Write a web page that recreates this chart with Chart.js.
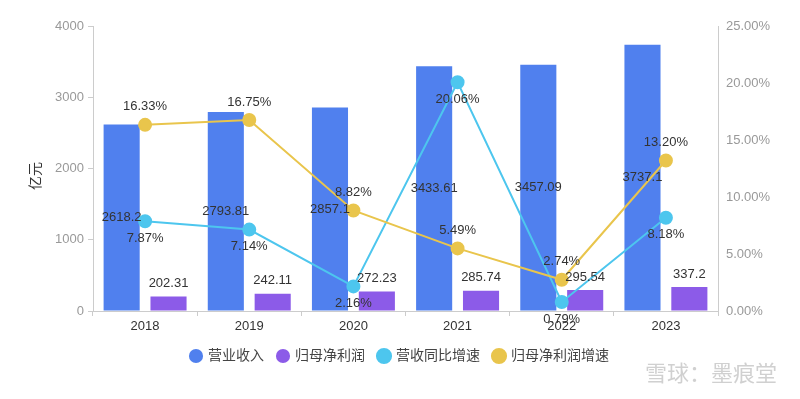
<!DOCTYPE html>
<html>
<head>
<meta charset="utf-8">
<script src="https://cdn.jsdelivr.net/npm/chart.js"></script>
<style>
  html, body { margin: 0; padding: 0; background: #fff; }
  #wrap { width: 800px; height: 399px; position: relative; }
</style>
</head>
<body>
<div id="wrap"><canvas id="chart"></canvas></div>
<script>
// chart data
const years = ['2018', '2019', '2020', '2021', '2022', '2023'];
const revenue = [2618.2, 2793.81, 2857.1, 3433.61, 3457.09, 3737.1];
const netProfit = [202.31, 242.11, 272.23, 285.74, 295.54, 337.2];
const revenueGrowth = [7.87, 7.14, 2.16, 20.06, 0.79, 8.18];
const profitGrowth = [16.33, 16.75, 8.82, 5.49, 2.74, 13.20];
const leftTicks = [0, 1000, 2000, 3000, 4000];
const rightTicks = [0, 5, 10, 15, 20, 25];

const FONT = '"Liberation Sans", "Noto Sans CJK SC", sans-serif';

// draws value labels for each series
const valueLabels = {
  id: 'valueLabels',
  afterDatasetsDraw(chart) {
    const ctx = chart.ctx;
    ctx.save();
    ctx.font = '13px ' + FONT;
    ctx.fillStyle = '#333';
    ctx.textAlign = 'center';
    ctx.textBaseline = 'middle';
    chart.data.datasets.forEach((ds, i) => {
      const meta = chart.getDatasetMeta(i);
      meta.data.forEach((el, j) => {
        const v = ds.data[j];
        if (ds.labelPos === 'center') {
          ctx.fillText(String(v), el.x, (el.y + el.base) / 2);
        } else if (ds.labelPos === 'top') {
          ctx.fillText(String(v), el.x, el.y - 13);
        } else if (ds.labelPos === 'above') {
          ctx.fillText(v.toFixed(2) + '%', el.x, el.y - 18);
        } else if (ds.labelPos === 'below') {
          ctx.fillText(v.toFixed(2) + '%', el.x, el.y + 17);
        }
      });
    });
    ctx.restore();
  }
};

// axis title and watermark
const extras = {
  id: 'extras',
  afterDraw(chart) {
    const ctx = chart.ctx;
    ctx.save();
    ctx.font = '14px ' + FONT;
    ctx.fillStyle = '#333';
    ctx.textAlign = 'center';
    ctx.textBaseline = 'middle';
    ctx.translate(36, 176);
    ctx.rotate(-Math.PI / 2);
    ctx.fillText('亿元', 0, 0);
    ctx.restore();

    ctx.save();
    ctx.font = '22px "Noto Sans CJK SC", sans-serif';
    ctx.fillStyle = 'rgba(200,200,200,0.85)';
    ctx.textAlign = 'left';
    ctx.textBaseline = 'middle';
    ctx.fillText('雪球：墨痕堂', 645, 373);
    ctx.restore();
  }
};

new Chart(document.getElementById('chart'), {
  data: {
    labels: years,
    datasets: [
      {
        type: 'bar', label: '营业收入', data: revenue, yAxisID: 'y',
        backgroundColor: '#5080EE', order: 2, labelPos: 'center',
        categoryPercentage: 0.9, barPercentage: 0.77
      },
      {
        type: 'bar', label: '归母净利润', data: netProfit, yAxisID: 'y',
        backgroundColor: '#8C5BE8', order: 3, labelPos: 'top',
        categoryPercentage: 0.9, barPercentage: 0.77
      },
      {
        type: 'line', label: '营收同比增速', data: revenueGrowth, yAxisID: 'y1',
        borderColor: '#4DC6EE', backgroundColor: '#4DC6EE', borderWidth: 2,
        pointRadius: 6, pointHoverRadius: 6, order: 1, labelPos: 'below'
      },
      {
        type: 'line', label: '归母净利润增速', data: profitGrowth, yAxisID: 'y1',
        borderColor: '#E9C54C', backgroundColor: '#E9C54C', borderWidth: 2,
        pointRadius: 6, pointHoverRadius: 6, order: 0, labelPos: 'above'
      }
    ]
  },
  options: {
    responsive: true,
    maintainAspectRatio: false,
    animation: false,
    layout: { padding: { left: 0, right: 0, top: 26, bottom: 26 } },
    plugins: {
      tooltip: { enabled: false },
      legend: {
        position: 'bottom',
        labels: {
          sort: (a, b) => a.datasetIndex - b.datasetIndex,
          usePointStyle: true, pointStyle: 'circle', boxWidth: 10, boxHeight: 10,
          padding: 14, color: '#444', font: { size: 14, family: FONT }
        }
      }
    },
    scales: {
      x: {
        grid: { display: true, drawOnChartArea: false, offset: true, tickLength: 5, color: '#ccc' },
        border: { color: '#ccc' },
        ticks: { color: '#333', font: { size: 13, family: FONT }, padding: 3 },
        afterFit(s) { s.height = 24; }
      },
      y: {
        position: 'left', min: 0, max: 4000,
        afterBuildTicks(s) { s.ticks = leftTicks.map(v => ({ value: v })); },
        grid: { drawOnChartArea: false, tickLength: 5, color: '#ccc' },
        border: { color: '#ccc' },
        ticks: { color: '#999', font: { size: 13, family: FONT }, padding: 4,
          callback: v => String(v) },
        afterFit(s) { s.width = 93; }
      },
      y1: {
        position: 'right', min: 0, max: 25,
        afterBuildTicks(s) { s.ticks = rightTicks.map(v => ({ value: v })); },
        grid: { drawOnChartArea: false, drawTicks: false, color: '#ccc' },
        border: { color: '#ccc' },
        ticks: { color: '#999', font: { size: 13, family: FONT }, padding: 8,
          callback: v => v.toFixed(2) + '%' },
        afterFit(s) { s.width = 82; }
      }
    }
  },
  plugins: [valueLabels, extras]
});
</script>
</body>
</html>
